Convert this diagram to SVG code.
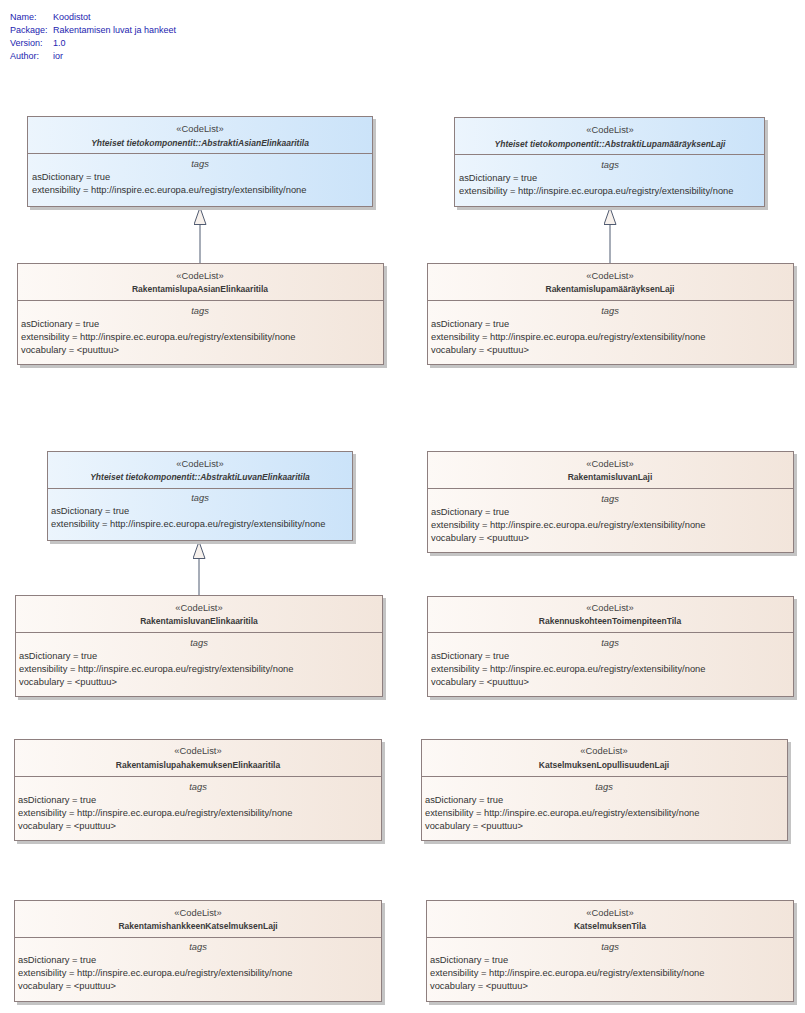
<svg xmlns="http://www.w3.org/2000/svg" width="805" height="1013" viewBox="0 0 805 1013">
<style>
text{font-family:"Liberation Sans",Arial,sans-serif;font-size:9.35px;fill:#333}
.meta{fill:#2424b0;font-size:9px}
.st{text-anchor:middle;fill:#444}
.nm{text-anchor:middle;font-weight:bold;fill:#3a3a3a;font-size:8.5px}
.nmi{text-anchor:middle;font-weight:bold;font-style:italic;fill:#3a3a3a;font-size:8.5px}
.tg{text-anchor:middle;font-style:italic;fill:#444}
.shadow{fill:#c4c4c4}
.blue{fill:url(#gb);stroke:#8e7f7f;stroke-width:1}
.beige{fill:url(#gg);stroke:#8e7f7f;stroke-width:1}
.sep{stroke:#8e7f7f;stroke-width:1}
.gen{stroke:#4f5a70;stroke-width:1;fill:none;marker-end:url(#tri)}
</style>
<defs>
<linearGradient id="gb" x1="0" y1="0" x2="1" y2="0"><stop offset="0" stop-color="#ecf5fd"/><stop offset="1" stop-color="#cbe3f9"/></linearGradient>
<linearGradient id="gg" x1="0" y1="0" x2="1" y2="0"><stop offset="0" stop-color="#fdf9f6"/><stop offset="1" stop-color="#f2e5db"/></linearGradient>
<marker id="tri" viewBox="0 0 18 13" refX="17.5" refY="6.5" markerWidth="18" markerHeight="13" markerUnits="userSpaceOnUse" orient="auto">
<path d="M0.5,0.5 L17.5,6.5 L0.5,12.5 Z" fill="#f7f1ec" stroke="#4f5a70" stroke-width="1"/>
</marker>
</defs>
<g id="meta">
<text class="meta" x="10" y="20">Name:</text><text class="meta" x="53" y="20">Koodistot</text>
<text class="meta" x="10" y="33">Package:</text><text class="meta" x="53" y="33">Rakentamisen luvat ja hankeet</text>
<text class="meta" x="10" y="46">Version:</text><text class="meta" x="53" y="46">1.0</text>
<text class="meta" x="10" y="59">Author:</text><text class="meta" x="53" y="59">ior</text>
</g>
<g id="connectors">
<line class="gen" x1="200" y1="263" x2="200" y2="207.5"/>
<line class="gen" x1="610" y1="263" x2="610" y2="207.5"/>
<line class="gen" x1="199" y1="595" x2="199" y2="541.5"/>
</g>
<g id="n1">
<rect class="shadow" x="30" y="119" width="346" height="91"/>
<rect class="blue" x="27.5" y="116.5" width="345" height="90"/>
<line class="sep" x1="27.5" y1="153.5" x2="372.5" y2="153.5"/>
<text class="st" x="200" y="132">«CodeList»</text>
<text class="nmi" x="200" y="146">Yhteiset tietokomponentit::AbstraktiAsianElinkaaritila</text>
<text class="tg" x="200" y="167">tags</text>
<text x="32" y="180">asDictionary = true</text>
<text x="32" y="193">extensibility = http://inspire.ec.europa.eu/registry/extensibility/none</text>
</g>
<g id="n2">
<rect class="shadow" x="20" y="266" width="367" height="102"/>
<rect class="beige" x="17.5" y="263.5" width="366" height="101"/>
<line class="sep" x1="17.5" y1="300.5" x2="383.5" y2="300.5"/>
<text class="st" x="200" y="279">«CodeList»</text>
<text class="nm" x="200" y="292">RakentamislupaAsianElinkaaritila</text>
<text class="tg" x="200" y="314">tags</text>
<text x="21" y="327">asDictionary = true</text>
<text x="21" y="340">extensibility = http://inspire.ec.europa.eu/registry/extensibility/none</text>
<text x="21" y="353">vocabulary = &lt;puuttuu&gt;</text>
</g>
<g id="n3">
<rect class="shadow" x="457" y="120" width="311" height="90"/>
<rect class="blue" x="454.5" y="117.5" width="310" height="89"/>
<line class="sep" x1="454.5" y1="154.5" x2="764.5" y2="154.5"/>
<text class="st" x="610" y="133">«CodeList»</text>
<text class="nmi" x="610" y="147">Yhteiset tietokomponentit::AbstraktiLupamääräyksenLaji</text>
<text class="tg" x="610" y="168">tags</text>
<text x="459" y="181">asDictionary = true</text>
<text x="459" y="194">extensibility = http://inspire.ec.europa.eu/registry/extensibility/none</text>
</g>
<g id="n4">
<rect class="shadow" x="430" y="266" width="367" height="102"/>
<rect class="beige" x="427.5" y="263.5" width="366" height="101"/>
<line class="sep" x1="427.5" y1="300.5" x2="793.5" y2="300.5"/>
<text class="st" x="610" y="279">«CodeList»</text>
<text class="nm" x="610" y="292">RakentamislupamääräyksenLaji</text>
<text class="tg" x="610" y="314">tags</text>
<text x="431" y="327">asDictionary = true</text>
<text x="431" y="340">extensibility = http://inspire.ec.europa.eu/registry/extensibility/none</text>
<text x="431" y="353">vocabulary = &lt;puuttuu&gt;</text>
</g>
<g id="n5">
<rect class="shadow" x="50" y="454" width="306" height="90"/>
<rect class="blue" x="47.5" y="451.5" width="305" height="89"/>
<line class="sep" x1="47.5" y1="488.5" x2="352.5" y2="488.5"/>
<text class="st" x="200" y="467">«CodeList»</text>
<text class="nmi" x="200" y="480">Yhteiset tietokomponentit::AbstraktiLuvanElinkaaritila</text>
<text class="tg" x="200" y="501">tags</text>
<text x="51" y="514">asDictionary = true</text>
<text x="51" y="527">extensibility = http://inspire.ec.europa.eu/registry/extensibility/none</text>
</g>
<g id="n6">
<rect class="shadow" x="18" y="598" width="368" height="102"/>
<rect class="beige" x="15.5" y="595.5" width="367" height="101"/>
<line class="sep" x1="15.5" y1="632.5" x2="382.5" y2="632.5"/>
<text class="st" x="199" y="611">«CodeList»</text>
<text class="nm" x="199" y="624">RakentamisluvanElinkaaritila</text>
<text class="tg" x="199" y="646">tags</text>
<text x="19" y="659">asDictionary = true</text>
<text x="19" y="672">extensibility = http://inspire.ec.europa.eu/registry/extensibility/none</text>
<text x="19" y="685">vocabulary = &lt;puuttuu&gt;</text>
</g>
<g id="n7">
<rect class="shadow" x="430" y="454" width="367" height="102"/>
<rect class="beige" x="427.5" y="451.5" width="366" height="101"/>
<line class="sep" x1="427.5" y1="488.5" x2="793.5" y2="488.5"/>
<text class="st" x="610" y="467">«CodeList»</text>
<text class="nm" x="610" y="480">RakentamisluvanLaji</text>
<text class="tg" x="610" y="502">tags</text>
<text x="431" y="515">asDictionary = true</text>
<text x="431" y="528">extensibility = http://inspire.ec.europa.eu/registry/extensibility/none</text>
<text x="431" y="541">vocabulary = &lt;puuttuu&gt;</text>
</g>
<g id="n8">
<rect class="shadow" x="430" y="599" width="367" height="101"/>
<rect class="beige" x="427.5" y="596.5" width="366" height="100"/>
<line class="sep" x1="427.5" y1="632.5" x2="793.5" y2="632.5"/>
<text class="st" x="610" y="611">«CodeList»</text>
<text class="nm" x="610" y="624">RakennuskohteenToimenpiteenTila</text>
<text class="tg" x="610" y="646">tags</text>
<text x="431" y="659">asDictionary = true</text>
<text x="431" y="672">extensibility = http://inspire.ec.europa.eu/registry/extensibility/none</text>
<text x="431" y="685">vocabulary = &lt;puuttuu&gt;</text>
</g>
<g id="n9">
<rect class="shadow" x="17" y="742" width="368" height="102"/>
<rect class="beige" x="14.5" y="739.5" width="367" height="101"/>
<line class="sep" x1="14.5" y1="776.5" x2="381.5" y2="776.5"/>
<text class="st" x="198" y="754">«CodeList»</text>
<text class="nm" x="198" y="768">RakentamislupahakemuksenElinkaaritila</text>
<text class="tg" x="198" y="790">tags</text>
<text x="18" y="803">asDictionary = true</text>
<text x="18" y="816">extensibility = http://inspire.ec.europa.eu/registry/extensibility/none</text>
<text x="18" y="829">vocabulary = &lt;puuttuu&gt;</text>
</g>
<g id="n10">
<rect class="shadow" x="424" y="742" width="367" height="102"/>
<rect class="beige" x="421.5" y="739.5" width="366" height="101"/>
<line class="sep" x1="421.5" y1="776.5" x2="787.5" y2="776.5"/>
<text class="st" x="604" y="754">«CodeList»</text>
<text class="nm" x="604" y="768">KatselmuksenLopullisuudenLaji</text>
<text class="tg" x="604" y="790">tags</text>
<text x="425" y="803">asDictionary = true</text>
<text x="425" y="816">extensibility = http://inspire.ec.europa.eu/registry/extensibility/none</text>
<text x="425" y="829">vocabulary = &lt;puuttuu&gt;</text>
</g>
<g id="n11">
<rect class="shadow" x="17" y="903" width="368" height="102"/>
<rect class="beige" x="14.5" y="900.5" width="367" height="101"/>
<line class="sep" x1="14.5" y1="937.5" x2="381.5" y2="937.5"/>
<text class="st" x="198" y="916">«CodeList»</text>
<text class="nm" x="198" y="929">RakentamishankkeenKatselmuksenLaji</text>
<text class="tg" x="198" y="950">tags</text>
<text x="18" y="963">asDictionary = true</text>
<text x="18" y="976">extensibility = http://inspire.ec.europa.eu/registry/extensibility/none</text>
<text x="18" y="989">vocabulary = &lt;puuttuu&gt;</text>
</g>
<g id="n12">
<rect class="shadow" x="429" y="903" width="368" height="102"/>
<rect class="beige" x="426.5" y="900.5" width="367" height="101"/>
<line class="sep" x1="426.5" y1="937.5" x2="793.5" y2="937.5"/>
<text class="st" x="610" y="916">«CodeList»</text>
<text class="nm" x="610" y="929">KatselmuksenTila</text>
<text class="tg" x="610" y="950">tags</text>
<text x="430" y="963">asDictionary = true</text>
<text x="430" y="976">extensibility = http://inspire.ec.europa.eu/registry/extensibility/none</text>
<text x="430" y="989">vocabulary = &lt;puuttuu&gt;</text>
</g>
</svg>
